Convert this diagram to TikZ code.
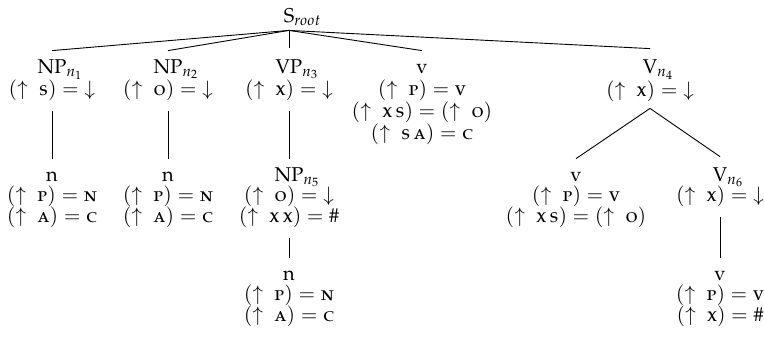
\documentclass[tikz,border=0pt]{standalone}
\usepackage[T1]{fontenc}
\usepackage[sc]{mathpazo}
\newcommand{\fs}[1]{\textsc{#1}}
\begin{document}
\begin{tikzpicture}[x=0.5pt,y=-0.5pt,
  font=\fontsize{10}{12}\selectfont,
  cat/.style={inner xsep=0pt,inner ysep=0.5pt,text height=7pt,text depth=0pt,anchor=base},
  ann/.style={inner xsep=0pt,inner ysep=0.5pt,text height=7.2pt,text depth=2.5pt,anchor=base},
  edge/.style={line width=0.45pt}]
\useasboundingbox (0,0) rectangle (764,339);
% root
\node[cat] (r) at (289,22) {S\rlap{$_{root}$}};
% level 2
\node[cat] (a1) at (52,73) {NP\rlap{$_{n_1}$}};
\node[ann] (a1a) at (52,95) {$(\uparrow\;\fs{s}) = {\downarrow}$};
\node[cat] (a2) at (168,73) {NP\rlap{$_{n_2}$}};
\node[ann] (a2a) at (168,95) {$(\uparrow\;\fs{o}) = {\downarrow}$};
\node[cat] (a3) at (289,73) {VP\rlap{$_{n_3}$}};
\node[ann] (a3a) at (289,95) {$(\uparrow\;\fs{x}) = {\downarrow}$};
\node[cat] (a4) at (422,73) {v};
\node[ann] (a4a) at (422,95) {$(\uparrow\;\fs{p}) = \fs{v}$};
\node[ann] (a4b) at (422,117) {$(\uparrow\;\fs{x}\,\fs{s}) = (\uparrow\;\fs{o})$};
\node[ann] (a4c) at (422,139) {$(\uparrow\;\fs{s}\,\fs{a}) = \fs{c}$};
\node[cat] (a5) at (650,73) {V\rlap{$_{n_4}$}};
\node[ann] (a5a) at (650,96) {$(\uparrow\;\fs{x}) = {\downarrow}$};
% level 3
\node[cat] (b1) at (52,181) {n};
\node[ann] (b1a) at (52,201) {$(\uparrow\;\fs{p}) = \fs{n}$};
\node[ann] (b1b) at (52,222) {$(\uparrow\;\fs{a}) = \fs{c}$};
\node[cat] (b2) at (168,181) {n};
\node[ann] (b2a) at (168,201) {$(\uparrow\;\fs{p}) = \fs{n}$};
\node[ann] (b2b) at (168,222) {$(\uparrow\;\fs{a}) = \fs{c}$};
\node[cat] (b3) at (289,181) {NP\rlap{$_{n_5}$}};
\node[ann] (b3a) at (289,201) {$(\uparrow\;\fs{o}) = {\downarrow}$};
\node[ann] (b3b) at (289,222) {$(\uparrow\;\fs{x}\,\fs{x}) = \#$};
\node[cat] (b4) at (576,181) {v};
\node[ann] (b4a) at (576,201) {$(\uparrow\;\fs{p}) = \fs{v}$};
\node[ann] (b4b) at (576,222) {$(\uparrow\;\fs{x}\,\fs{s}) = (\uparrow\;\fs{o})$};
\node[cat] (b5) at (720,181) {V\rlap{$_{n_6}$}};
\node[ann] (b5a) at (720,201) {$(\uparrow\;\fs{x}) = {\downarrow}$};
% level 4
\node[cat] (c1) at (289,280) {n};
\node[ann] (c1a) at (289,300) {$(\uparrow\;\fs{p}) = \fs{n}$};
\node[ann] (c1b) at (289,321) {$(\uparrow\;\fs{a}) = \fs{c}$};
\node[cat] (c2) at (720,280) {v};
\node[ann] (c2a) at (720,300) {$(\uparrow\;\fs{p}) = \fs{v}$};
\node[ann] (c2b) at (720,321) {$(\uparrow\;\fs{x}) = \#$};
% edges
\draw[edge] ([yshift=-3.5pt]r.south) -- ([yshift=3.5pt]a1.north);
\draw[edge] ([yshift=-3.5pt]r.south) -- ([yshift=3.5pt]a2.north);
\draw[edge] ([yshift=-3.5pt]r.south) -- ([yshift=5pt]a3.north);
\draw[edge] ([yshift=-3.5pt]r.south) -- ([yshift=3.5pt]a4.north);
\draw[edge] ([yshift=-3.5pt]r.south) -- ([yshift=4.5pt]a5.north);
\draw[edge] ([yshift=-5pt]a1a.south) -- ([yshift=3.5pt]b1.north);
\draw[edge] ([yshift=-5pt]a2a.south) -- ([yshift=3.5pt]b2.north);
\draw[edge] ([yshift=-5pt]a3a.south) -- ([yshift=3.5pt]b3.north);
\draw[edge] ([yshift=-3pt]a5a.south) -- ([yshift=3.5pt]b4.north);
\draw[edge] ([yshift=-3pt]a5a.south) -- ([yshift=4.5pt]b5.north);
\draw[edge] ([yshift=-5pt]b3b.south) -- ([yshift=3.5pt]c1.north);
\draw[edge] ([yshift=-5pt]b5a.south) -- ([yshift=3.5pt]c2.north);
\end{tikzpicture}
\end{document}
